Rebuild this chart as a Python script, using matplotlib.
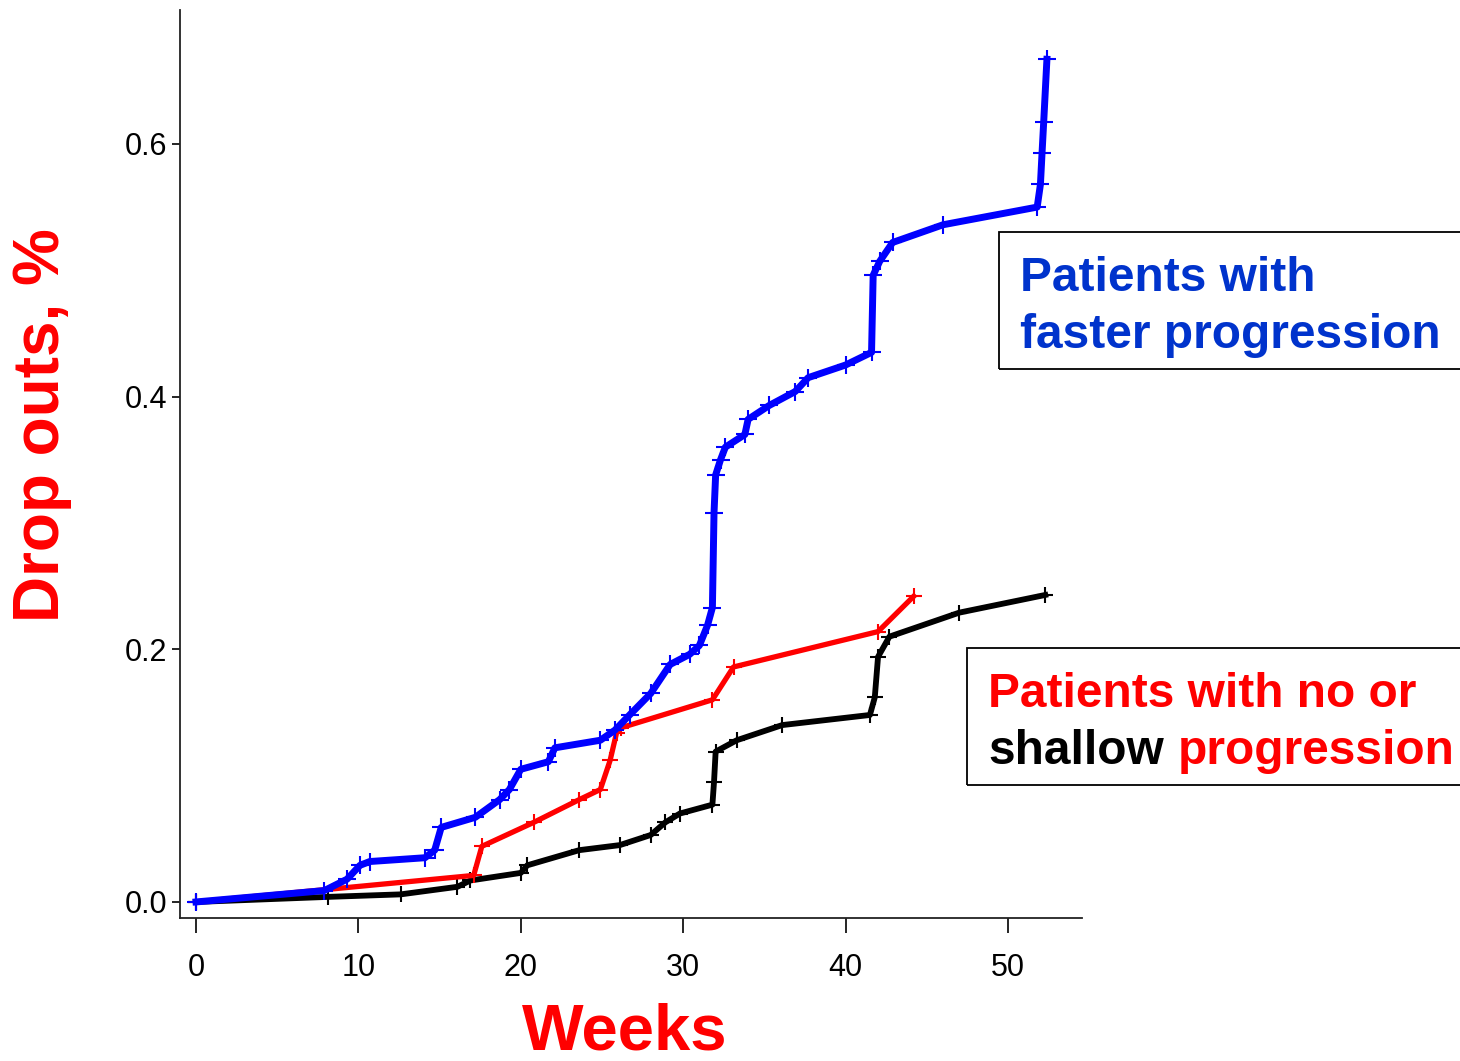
import matplotlib
matplotlib.use("Agg")
import matplotlib.pyplot as plt
from matplotlib.patches import Rectangle

# Weeks / cumulative drop-out fraction
fast_weeks = [0, 7.9, 9.3, 10.1, 10.7, 14.1, 14.7, 15.1, 17.2, 18.7, 19.3, 20.0,
              21.7, 22.1, 24.9, 25.8, 26.7, 28.0, 29.2, 30.4, 31.0, 31.5, 31.8,
              31.9, 32.0, 32.3, 32.6, 33.8, 34.0, 35.3, 36.9, 37.7, 40.0, 41.6,
              41.7, 42.1, 42.9, 46.0, 51.8, 52.0, 52.1, 52.2, 52.4]
fast_drop = [0, 0.009, 0.018, 0.029, 0.032, 0.035, 0.041, 0.059, 0.067, 0.081,
             0.089, 0.105, 0.111, 0.122, 0.128, 0.136, 0.148, 0.165, 0.188, 0.196,
             0.203, 0.219, 0.233, 0.308, 0.338, 0.350, 0.360, 0.370, 0.382, 0.393,
             0.404, 0.415, 0.425, 0.435, 0.496, 0.507, 0.522, 0.536, 0.550, 0.568,
             0.593, 0.617, 0.667]

slow_weeks = [0, 17.1, 17.6, 20.8, 23.6, 24.9, 25.5, 25.9, 26.2, 31.8, 33.1,
              42.0, 44.2]
slow_drop = [0, 0.021, 0.044, 0.063, 0.081, 0.089, 0.112, 0.134, 0.138, 0.160,
             0.186, 0.214, 0.242]

none_weeks = [0, 8.1, 12.6, 16.1, 16.9, 20.0, 20.4, 23.6, 26.1, 28.0, 28.9,
              29.8, 31.8, 31.9, 32.0, 33.3, 36.1, 41.5, 41.8, 42.0, 42.7, 47.0,
              52.3]
none_drop = [0, 0.004, 0.006, 0.012, 0.017, 0.023, 0.029, 0.041, 0.045, 0.053,
             0.063, 0.070, 0.077, 0.095, 0.119, 0.128, 0.140, 0.148, 0.162, 0.194,
             0.210, 0.229, 0.243]

x_ticks = [0, 10, 20, 30, 40, 50]
y_ticks = [0.0, 0.2, 0.4, 0.6]

W, H = 1460, 1061
fig = plt.figure(figsize=(W / 100, H / 100), dpi=100)
ax = fig.add_axes([180 / W, 1 - 918 / H, (1082 - 180) / W, (918 - 10) / H])

tick_font = ['Liberation Sans Narrow', 'Liberation Sans', 'DejaVu Sans']

# Curves, black under red under blue
ax.plot(none_weeks, none_drop, color='black', lw=4.2, marker='+',
        markersize=12, mew=1.5)
ax.plot(slow_weeks, slow_drop, color='#ff0000', lw=3.8, marker='+',
        markersize=12, mew=1.5)
ax.plot(fast_weeks, fast_drop, color='#0000ff', lw=5.0, marker='+',
        markersize=13, mew=1.5)

ax.set_xlim(-0.985, 54.56)
ax.set_ylim(-0.0127, 0.706)
ax.set_xticks(x_ticks)
ax.set_yticks(y_ticks)
ax.set_yticklabels(['%.1f' % v for v in y_ticks])

for side in ['top', 'right']:
    ax.spines[side].set_visible(False)
for side in ['left', 'bottom']:
    ax.spines[side].set_linewidth(1.3)
    ax.spines[side].set_color('#222222')

ax.tick_params(axis='x', length=11, width=1.2, pad=14, labelsize=22)
ax.tick_params(axis='y', length=6, width=1.2, pad=3, labelsize=22)
for lab in ax.get_xticklabels() + ax.get_yticklabels():
    lab.set_family(tick_font)

# Axis titles
fig.text(625 / W, 1 - 1033 / H, 'Weeks', color='#ff0000', fontsize=47,
         fontweight='bold', ha='center', va='center',
         family=['Liberation Sans Narrow', 'Liberation Sans'])
fig.text(42 / W, 1 - 425 / H, 'Drop outs, %', color='#ff0000', fontsize=46,
         fontweight='bold', ha='center', va='center', rotation=90,
         family=['Liberation Sans', 'DejaVu Sans'])

# Annotation boxes
box_font = ['Liberation Sans', 'DejaVu Sans']
fig.patches.append(Rectangle((999 / W, 1 - 369 / H), 0.5, (369 - 232) / H,
                             transform=fig.transFigure, fill=False,
                             edgecolor='black', lw=1.3))
fig.patches.append(Rectangle((967 / W, 1 - 785 / H), 0.5, (785 - 648) / H,
                             transform=fig.transFigure, fill=False,
                             edgecolor='black', lw=1.3))

fig.text(1020 / W, 1 - 291 / H, 'Patients with', color='#0033cc', fontsize=34.5,
         fontweight='bold', family=box_font, va='baseline')
fig.text(1020 / W, 1 - 348 / H, 'faster progression', color='#0033cc',
         fontsize=34.5, fontweight='bold', family=box_font, va='baseline')

fig.text(988 / W, 1 - 707 / H, 'Patients with no or', color='#ff0000',
         fontsize=34.5, fontweight='bold', family=box_font, va='baseline')
fig.text(988 / W, 1 - 764 / H, 'shallow', color='black', fontsize=34.5,
         fontweight='bold', family=box_font, va='baseline')
fig.text(1178 / W, 1 - 764 / H, 'progression', color='#ff0000', fontsize=34.5,
         fontweight='bold', family=box_font, va='baseline')

fig.savefig('out.png', dpi=100)
